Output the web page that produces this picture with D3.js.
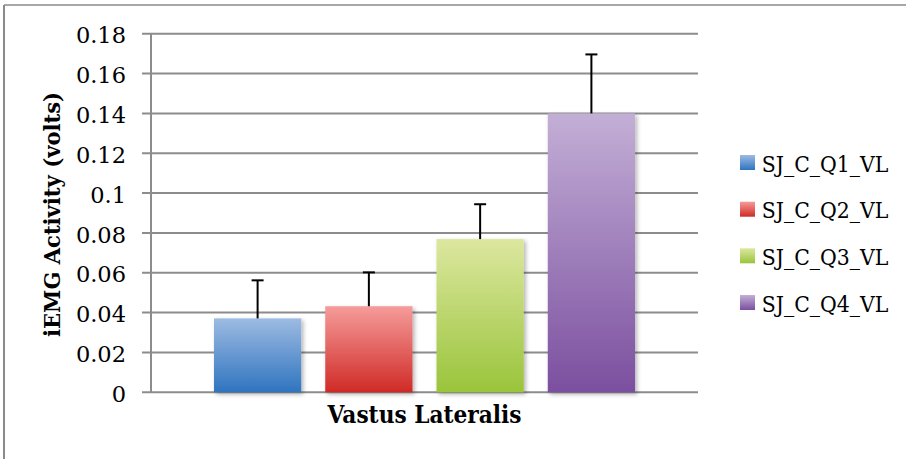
<!DOCTYPE html>
<html>
<head>
<meta charset="utf-8">
<script src="https://cdn.jsdelivr.net/npm/d3@7"></script>
<style>
  html, body { margin: 0; padding: 0; background: #fff; }
  svg { display: block; }
</style>
</head>
<body>
<svg id="chart" width="906" height="459"></svg>
<script>
// ---- data ----
const categories = ["Vastus Lateralis"];
const seriesNames = ["SJ_C_Q1_VL", "SJ_C_Q2_VL", "SJ_C_Q3_VL", "SJ_C_Q4_VL"];
const seriesValues = [0.0371, 0.0432, 0.0769, 0.1400];
const errorValues = [0.0191, 0.0170, 0.0175, 0.0296];
const yTicks = [0, 0.02, 0.04, 0.06, 0.08, 0.1, 0.12, 0.14, 0.16, 0.18];
const yTickLabels = ["0", "0.02", "0.04", "0.06", "0.08", "0.1", "0.12", "0.14", "0.16", "0.18"];
const yAxisTitle = "iEMG Activity (volts)";

const gradTop = ["#9dbbe2", "#f59c9a", "#dce79f", "#c3afd6"];
const gradBottom = ["#2f74bf", "#d02a26", "#9ac43b", "#7b4f9f"];

// ---- layout ----
const svg = d3.select("#chart");
const plotLeft = 151, plotRight = 698, plotTop = 33.7, plotBottom = 392.3;

const y = d3.scaleLinear().domain([0, 0.18]).range([plotBottom, plotTop]);
const x0 = d3.scaleBand().domain(categories).range([plotLeft, plotRight])
  .paddingInner(0).paddingOuter(0.1496).align(0.5);
const x1 = d3.scaleBand().domain(seriesNames).range([0, x0.bandwidth()])
  .paddingInner(0.216).paddingOuter(0);

const defs = svg.append("defs");
seriesNames.forEach((s, i) => {
  const g = defs.append("linearGradient").attr("id", "grad" + i)
    .attr("x1", 0).attr("y1", 0).attr("x2", 0).attr("y2", 1);
  g.append("stop").attr("offset", "0%").attr("stop-color", gradTop[i]);
  g.append("stop").attr("offset", "100%").attr("stop-color", gradBottom[i]);
});
const f = defs.append("filter").attr("id", "shadow")
  .attr("x", "-10%").attr("y", "-10%").attr("width", "130%").attr("height", "130%");
f.append("feDropShadow").attr("dx", 2).attr("dy", 2).attr("stdDeviation", 2)
  .attr("flood-color", "#000").attr("flood-opacity", 0.3);

// outer frame
svg.append("line").attr("x1", 4).attr("x2", 906).attr("y1", 5).attr("y2", 5)
  .attr("stroke", "#8a8a8a").attr("stroke-width", 1.5);
svg.append("line").attr("x1", 4).attr("x2", 4).attr("y1", 5).attr("y2", 459)
  .attr("stroke", "#8a8a8a").attr("stroke-width", 2);

// gridlines + ticks
svg.append("g").selectAll("line").data(yTicks).join("line")
  .attr("x1", plotLeft - 9).attr("x2", plotRight)
  .attr("y1", d => y(d)).attr("y2", d => y(d))
  .attr("stroke", "#8c8c8c").attr("stroke-width", 2);

// y axis line
svg.append("line").attr("x1", plotLeft).attr("x2", plotLeft)
  .attr("y1", plotTop).attr("y2", plotBottom)
  .attr("stroke", "#8c8c8c").attr("stroke-width", 2);

// tick labels
svg.append("g").selectAll("text").data(yTicks).join("text")
  .attr("x", 126).attr("y", d => y(d)).attr("dy", "0.43em")
  .attr("text-anchor", "end")
  .attr("font-family", "DejaVu Serif").attr("font-size", 22.5).attr("fill", "#000")
  .text((d, i) => yTickLabels[i]);

// bars
const gBars = svg.append("g").attr("transform", `translate(${x0(categories[0])},0)`);
gBars.selectAll("rect").data(seriesValues).join("rect")
  .attr("x", (d, i) => x1(seriesNames[i]))
  .attr("width", x1.bandwidth())
  .attr("y", d => y(d))
  .attr("height", d => plotBottom - y(d))
  .attr("fill", (d, i) => `url(#grad${i})`)
  .attr("filter", "url(#shadow)");

// error bars
const gErr = gBars.append("g");
seriesValues.forEach((v, i) => {
  const cx = x1(seriesNames[i]) + x1.bandwidth() / 2;
  gErr.append("line").attr("x1", cx).attr("x2", cx)
    .attr("y1", y(v)).attr("y2", y(v + errorValues[i]))
    .attr("stroke", "#000").attr("stroke-width", 2);
  gErr.append("line").attr("x1", cx - 6).attr("x2", cx + 6)
    .attr("y1", y(v + errorValues[i])).attr("y2", y(v + errorValues[i]))
    .attr("stroke", "#000").attr("stroke-width", 2);
});

// category label
svg.append("text")
  .attr("x", x0(categories[0]) + x0.bandwidth() / 2).attr("y", 422.5)
  .attr("text-anchor", "middle")
  .attr("font-family", "DejaVu Serif").attr("font-weight", "bold").attr("font-size", 24)
  .attr("textLength", 194).attr("lengthAdjust", "spacingAndGlyphs")
  .text(categories[0]);

// y axis title
svg.append("text")
  .attr("transform", "translate(60,214.5) rotate(-90)")
  .attr("text-anchor", "middle")
  .attr("font-family", "DejaVu Serif").attr("font-weight", "bold").attr("font-size", 22)
  .attr("textLength", 245).attr("lengthAdjust", "spacingAndGlyphs")
  .text(yAxisTitle);

// legend
const legY = [155, 201.7, 248.3, 295];
const leg = svg.append("g").selectAll("g").data(seriesNames).join("g")
  .attr("transform", (d, i) => `translate(740,${legY[i]})`);
leg.append("rect").attr("width", 15).attr("height", 15)
  .attr("fill", (d, i) => `url(#grad${i})`);
leg.append("text").attr("x", 21.7).attr("y", 16.7)
  .attr("font-family", "DejaVu Serif").attr("font-size", 23)
  .attr("textLength", 126.7).attr("lengthAdjust", "spacingAndGlyphs")
  .text(d => d);
</script>
</body>
</html>
